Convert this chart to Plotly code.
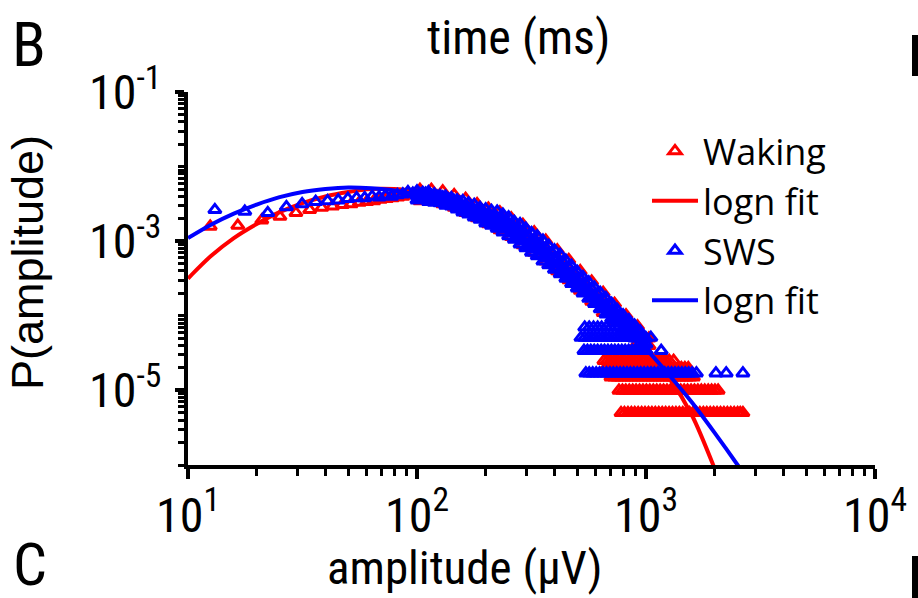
import plotly.graph_objects as go

# ---------------- data ----------------
wake_x_low = [12.5, 16.5, 21.0, 25.2, 29.6, 34.0, 38.4, 42.8, 47.2, 51.6, 56.0, 60.4,
              64.8, 69.2, 73.6, 78.0, 82.4, 86.8, 91.2, 95.6]
wake_p_low = [1.58e-3, 1.62e-3, 1.91e-3, 2.14e-3, 2.40e-3, 2.63e-3, 2.82e-3, 2.95e-3,
              3.09e-3, 3.16e-3, 3.31e-3, 3.39e-3, 3.47e-3, 3.63e-3, 3.72e-3, 3.80e-3,
              3.89e-3, 3.98e-3, 4.17e-3, 4.27e-3]
wake_band_x = [103, 115.5, 129.5, 145.3, 163, 183, 205, 230, 258, 290, 325, 365, 410,
               460, 516, 579, 650, 729, 818, 918, 1030]
wake_band_hi = [4.90e-3, 4.90e-3, 4.68e-3, 4.17e-3, 3.72e-3, 3.16e-3, 2.75e-3, 2.45e-3,
                2.04e-3, 1.66e-3, 1.32e-3, 1.02e-3, 7.59e-4, 5.62e-4, 3.98e-4, 2.88e-4,
                2.04e-4, 1.45e-4, 1.02e-4, 7.24e-5, 5.01e-5]
wake_band_mid = [4.17e-3, 3.98e-3, 3.72e-3, 3.31e-3, 2.95e-3, 2.57e-3, 2.19e-3, 1.86e-3,
                 1.58e-3, 1.23e-3, 1.00e-3, 7.59e-4, 5.75e-4, 4.27e-4, 3.09e-4, 2.24e-4,
                 1.55e-4, 1.12e-4, 7.94e-5, 5.75e-5, 3.98e-5]
wake_band_lo = [3.47e-3, 3.39e-3, 3.16e-3, 2.82e-3, 2.40e-3, 2.04e-3, 1.70e-3, 1.41e-3,
                1.15e-3, 8.91e-4, 7.08e-4, 5.37e-4, 3.98e-4, 3.02e-4, 2.19e-4, 1.55e-4,
                1.10e-4, 8.32e-5, 6.03e-5, 4.37e-5, 3.02e-5]
wake_row_levels = [5e-6, 1e-5, 1.5e-5, 2e-5, 2.5e-5]
wake_row_x = [
    [778, 805, 834, 863, 893, 924, 957, 990, 1025, 1061, 1098, 1137, 1177, 1218, 1261,
     1305, 1351, 1398, 1447, 1498, 1550, 1605, 1661, 1719, 1780, 1842, 1907, 1974,
     2043, 2115, 2189, 2266, 2345, 2427, 2512, 2580, 2650],
    [762, 789, 816, 845, 875, 905, 937, 970, 1004, 1039, 1076, 1114, 1153, 1193, 1235,
     1278, 1323, 1370, 1418, 1468, 1519, 1573, 1628, 1685, 1744, 1805, 1869, 1934,
     2000, 2065],
    [703, 728, 753, 780, 807, 836, 865, 896, 927, 960, 993, 1028, 1064, 1101, 1140,
     1180, 1222, 1265, 1309, 1355, 1403, 1452, 1503, 1556, 1611],
    [667, 690, 715, 740, 766, 793, 821, 850, 880, 911, 943, 976, 1010, 1046, 1083,
     1121, 1160, 1201, 1243, 1287, 1332, 1379, 1427, 1478, 1530],
    [655, 678, 702, 727, 752, 779, 806, 835, 864, 895, 926, 959, 992, 1027, 1063, 1101,
     1139, 1179, 1220, 1263, 1320],
]

sws_x_low = [13.1, 17.7, 22.3, 26.9, 31.5, 36.1, 40.7, 45.3, 49.9, 54.5, 59.1, 63.7,
             68.3, 72.9, 77.5, 82.1, 86.7, 91.3, 95.9]
sws_p_low = [2.63e-3, 2.51e-3, 2.40e-3, 2.88e-3, 3.16e-3, 3.39e-3, 3.47e-3, 3.55e-3,
             3.72e-3, 3.80e-3, 3.80e-3, 3.98e-3, 3.89e-3, 4.07e-3, 3.98e-3, 4.17e-3,
             4.27e-3, 4.57e-3, 4.37e-3]
sws_band_x = [100, 105.9, 112.2, 118.9, 125.9, 133.4, 141.3, 149.6, 158.5, 167.9, 177.8,
              188.4, 199.5, 211.3, 223.9, 237.1, 251.2, 266.1, 281.8, 298.5, 316.2,
              335.0, 354.8, 375.8, 398.1, 421.7, 446.7, 473.2, 501.2, 530.9, 562.3,
              595.7, 631.0, 668.3, 707.9, 749.9, 794.3, 841.4, 891.3, 944.1, 1000]
sws_band_hi = [4.68e-3, 4.47e-3, 4.57e-3, 4.27e-3, 4.07e-3, 3.98e-3, 3.80e-3, 3.55e-3,
               3.47e-3, 3.24e-3, 3.09e-3, 2.82e-3, 2.69e-3, 2.57e-3, 2.51e-3, 2.29e-3,
               2.09e-3, 1.82e-3, 1.70e-3, 1.48e-3, 1.29e-3, 1.17e-3, 1.02e-3, 8.71e-4,
               7.59e-4, 6.61e-4, 5.50e-4, 4.68e-4, 3.89e-4, 3.31e-4, 2.82e-4, 2.40e-4,
               2.04e-4, 1.74e-4, 1.45e-4, 1.20e-4, 1.02e-4, 8.71e-5, 7.41e-5, 6.17e-5,
               5.01e-5]
sws_band_mid = [4.07e-3, 3.98e-3, 3.98e-3, 3.72e-3, 3.63e-3, 3.55e-3, 3.31e-3, 3.16e-3,
                2.88e-3, 2.75e-3, 2.51e-3, 2.40e-3, 2.19e-3, 2.00e-3, 1.95e-3, 1.74e-3,
                1.58e-3, 1.38e-3, 1.26e-3, 1.10e-3, 9.55e-4, 8.71e-4, 7.41e-4, 6.46e-4,
                5.62e-4, 4.90e-4, 4.17e-4, 3.55e-4, 3.02e-4, 2.57e-4, 2.19e-4, 1.86e-4,
                1.58e-4, 1.35e-4, 1.15e-4, 9.77e-5, 8.32e-5, 7.08e-5, 6.03e-5, 5.13e-5,
                4.17e-5]
sws_band_lo = [3.55e-3, 3.63e-3, 3.39e-3, 3.31e-3, 3.24e-3, 3.02e-3, 2.95e-3, 2.69e-3,
               2.45e-3, 2.29e-3, 2.09e-3, 1.95e-3, 1.74e-3, 1.62e-3, 1.48e-3, 1.32e-3,
               1.17e-3, 1.05e-3, 9.12e-4, 8.13e-4, 7.08e-4, 6.31e-4, 5.37e-4, 4.79e-4,
               4.17e-4, 3.63e-4, 3.16e-4, 2.69e-4, 2.34e-4, 2.00e-4, 1.70e-4, 1.45e-4,
               1.23e-4, 1.05e-4, 9.12e-5, 7.94e-5, 6.76e-5, 5.75e-5, 5.01e-5, 4.27e-5,
               3.39e-5]
sws_band2_x = [102.9, 109.0, 115.5, 122.4, 129.6, 137.3, 145.4, 154.0, 163.1, 172.8,
               183.0, 193.9, 205.3, 217.5, 230.4, 244.0, 258.5, 273.9, 290.0, 307.2,
               325.4, 344.8, 365.2, 386.8, 409.7, 434.0, 459.7, 487.0, 515.8, 546.4,
               578.7, 613.1, 649.4, 687.8, 728.6, 771.8, 817.5, 866.0, 917.3, 971.7]
sws_band2_hi = [4.27e-3, 4.37e-3, 4.07e-3, 3.98e-3, 3.89e-3, 3.63e-3, 3.47e-3, 3.31e-3,
                3.02e-3, 2.88e-3, 2.69e-3, 2.51e-3, 2.34e-3, 2.24e-3, 2.09e-3, 1.91e-3,
                1.70e-3, 1.51e-3, 1.38e-3, 1.17e-3, 1.07e-3, 9.33e-4, 8.13e-4, 7.08e-4,
                6.03e-4, 5.25e-4, 4.47e-4, 3.72e-4, 3.16e-4, 2.69e-4, 2.29e-4, 1.95e-4,
                1.66e-4, 1.41e-4, 1.17e-4, 1.00e-4, 8.51e-5, 7.24e-5, 6.17e-5, 5.01e-5]
sws_band2_lo = [3.80e-3, 3.72e-3, 3.55e-3, 3.47e-3, 3.31e-3, 3.16e-3, 3.02e-3, 2.75e-3,
                2.57e-3, 2.40e-3, 2.24e-3, 2.04e-3, 1.86e-3, 1.74e-3, 1.58e-3, 1.45e-3,
                1.29e-3, 1.12e-3, 1.00e-3, 8.71e-4, 7.76e-4, 6.76e-4, 5.89e-4, 5.13e-4,
                4.47e-4, 3.89e-4, 3.31e-4, 2.88e-4, 2.45e-4, 2.09e-4, 1.78e-4, 1.51e-4,
                1.29e-4, 1.10e-4, 9.55e-5, 8.13e-5, 6.92e-5, 5.89e-5, 5.01e-5, 4.17e-5]
sws_row_levels = [1.7e-5, 3.4e-5, 5.1e-5, 7.0e-5]
sws_row_x = [
    [546, 565, 585, 606, 627, 649, 672, 696, 720, 745, 771, 798, 826, 855, 885, 916,
     948, 981, 1016, 1052, 1088, 1127, 1166, 1207, 1249, 1293, 1338, 1385, 1434, 1484,
     1536, 1590, 1660, 2020, 2240, 2650],
    [536, 555, 574, 594, 615, 637, 659, 682, 706, 731, 757, 784, 811, 840, 869, 900,
     931, 964, 998, 1165],
    [520, 540, 560, 580, 600, 622, 645, 667, 690, 715, 740, 765, 790, 817, 845, 875,
     905, 1050],
    [540, 565, 590, 615, 640, 670, 700, 730, 760],
]

fit_x = [10, 12.59, 15.85, 19.95, 25.12, 31.62, 39.81, 50.12, 63.1, 79.43, 100, 125.9,
         158.5, 199.5, 251.2, 316.2, 398.1, 501.2, 631, 794.3, 1000, 1259, 1585, 1995,
         2512, 3162]
wake_fit = [3.16e-4, 6.31e-4, 1.10e-3, 1.70e-3, 2.45e-3, 3.24e-3, 3.98e-3, 4.57e-3,
            5.01e-3, 5.01e-3, 4.68e-3, 4.17e-3, 3.24e-3, 2.29e-3, 1.48e-3, 8.91e-4,
            5.01e-4, 2.69e-4, 1.41e-4, 7.08e-5, 3.39e-5, 1.48e-5, 4.68e-6, 8.91e-7]
sws_fit = [1.10e-3, 1.66e-3, 2.34e-3, 3.09e-3, 3.89e-3, 4.57e-3, 5.01e-3, 5.25e-3,
           5.13e-3, 4.79e-3, 4.17e-3, 3.39e-3, 2.63e-3, 1.91e-3, 1.29e-3, 8.32e-4,
           5.01e-4, 2.82e-4, 1.51e-4, 7.76e-5, 3.63e-5, 1.62e-5, 6.92e-6, 2.69e-6,
           1.00e-6, 3.55e-7]

x_tick_vals = [10, 100, 1000, 10000]
x_tick_text = ["10<sup>1</sup>", "10<sup>2</sup>", "10<sup>3</sup>", "10<sup>4</sup>"]
y_tick_vals = [1e-5, 1e-3, 1e-1]
y_tick_text = ["10<sup>-5</sup>", "10<sup>-3</sup>", "10<sup>-1</sup>"]

RED = "#FF0000"
BLUE = "#0000FF"
NARROW = "Roboto Condensed, Archivo Narrow, Liberation Sans, sans-serif"
SANS = "Liberation Sans, Arial, sans-serif"


def assemble(x_low, p_low, bands, levels, rows):
    xs = list(x_low)
    ys = list(p_low)
    for bx, by in bands:
        xs += list(bx)
        ys += list(by)
    for lev, rx in zip(levels, rows):
        xs += list(rx)
        ys += [lev] * len(rx)
    return xs, ys


wx, wy = assemble(wake_x_low, wake_p_low,
                  [(wake_band_x, wake_band_hi), (wake_band_x, wake_band_mid),
                   (wake_band_x, wake_band_lo)],
                  wake_row_levels, wake_row_x)
sx, sy = assemble(sws_x_low, sws_p_low,
                  [(sws_band_x, sws_band_hi), (sws_band_x, sws_band_mid),
                   (sws_band_x, sws_band_lo), (sws_band2_x, sws_band2_hi),
                   (sws_band2_x, sws_band2_lo)],
                  sws_row_levels, sws_row_x)

marker_common = dict(symbol="triangle-up-open", size=11)

fig = go.Figure()
fig.add_trace(go.Scatter(x=wx, y=wy, mode="markers", name="Waking",
                         marker=dict(color=RED, line=dict(color=RED, width=3),
                                     **marker_common)))
fig.add_trace(go.Scatter(x=fit_x[:len(wake_fit)], y=wake_fit, mode="lines",
                         name="logn fit",
                         line=dict(color=RED, width=4, shape="spline", smoothing=0.8)))
fig.add_trace(go.Scatter(x=sx, y=sy, mode="markers", name="SWS",
                         marker=dict(color=BLUE, line=dict(color=BLUE, width=3),
                                     **marker_common)))
fig.add_trace(go.Scatter(x=fit_x, y=sws_fit, mode="lines", name="logn fit",
                         line=dict(color=BLUE, width=4, shape="spline", smoothing=0.8)))

x_minor = [m * d for d in (10, 100, 1000) for m in range(2, 10)]
y_minor = [m * d for d in (1e-6, 1e-5, 1e-4, 1e-3, 1e-2) for m in range(1, 10)]

fig.update_xaxes(type="log", range=[1, 4], showgrid=False, zeroline=False,
                 showline=True, linecolor="black", linewidth=4,
                 ticks="outside", ticklen=10, tickwidth=4, tickcolor="black",
                 tickmode="array", tickvals=x_tick_vals, ticktext=x_tick_text,
                 tickfont=dict(family=NARROW, size=48, color="black"),
                 ticklabelstandoff=-5,
                 minor=dict(ticks="outside", ticklen=7, tickwidth=3, tickcolor="black",
                            tickvals=x_minor, showgrid=False))
fig.update_yaxes(type="log", range=[-6, -1], showgrid=False, zeroline=False,
                 showline=True, linecolor="black", linewidth=4,
                 ticks="outside", ticklen=9, tickwidth=4, tickcolor="black",
                 tickmode="array", tickvals=y_tick_vals, ticktext=y_tick_text,
                 tickfont=dict(family=NARROW, size=48, color="black"),
                 ticklabelstandoff=4,
                 minor=dict(ticks="outside", ticklen=6, tickwidth=3, tickcolor="black",
                            tickvals=y_minor, showgrid=False))

L, R, T, B = 188, 43, 92, 133
PW, PH = 918 - L - R, 598 - T - B


def px(x):
    return (x - L) / PW


def py(y):
    return (598 - B - y) / PH


annotations = [
    dict(text="B", x=px(29), y=py(45), font=dict(family=NARROW, size=62)),
    dict(text="time (ms)", x=px(518), y=py(38), font=dict(family=NARROW, size=48)),
    dict(text="C", x=px(30), y=py(564), font=dict(family=NARROW, size=60)),
    dict(text="amplitude (μV)", x=px(464), y=py(567), font=dict(family=NARROW, size=47)),
    dict(text="P(amplitude)", x=px(27), y=py(263), textangle=-90,
         font=dict(family=SANS, size=45)),
]
for a in annotations:
    a.update(xref="paper", yref="paper", showarrow=False, xanchor="center",
             yanchor="middle")
    a["font"]["color"] = "black"

shapes = [
    dict(type="rect", xref="paper", yref="paper", x0=px(912), x1=px(918),
         y0=py(76), y1=py(35), fillcolor="black", line=dict(width=0)),
    dict(type="rect", xref="paper", yref="paper", x0=px(912), x1=px(918),
         y0=py(598), y1=py(556), fillcolor="black", line=dict(width=0)),
]

fig.update_layout(
    width=918, height=598,
    margin=dict(l=L, r=R, t=T, b=B, autoexpand=False),
    plot_bgcolor="white", paper_bgcolor="white",
    showlegend=True,
    legend=dict(x=px(647), y=py(121), xanchor="left", yanchor="top",
                itemwidth=46,
                bgcolor="rgba(0,0,0,0)", borderwidth=0,
                font=dict(family="Open Sans, Noto Sans, sans-serif", size=36,
                          color="black")),
    annotations=annotations,
    shapes=shapes,
)

fig.write_html("out.html")
